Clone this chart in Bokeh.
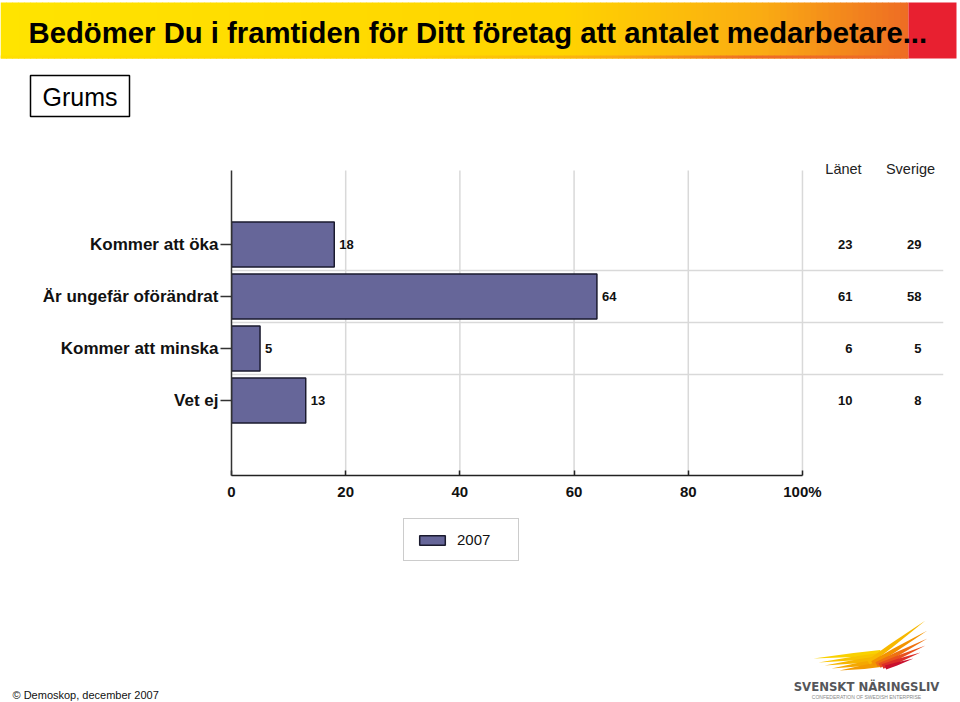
import math
from bokeh.plotting import figure
from bokeh.layouts import column
from bokeh.models import Range1d, FixedTicker, Legend, LegendItem, ColumnDataSource
from bokeh.core.properties import value
from bokeh.embed import file_html
from bokeh.resources import INLINE

# ---------------- data ----------------
categories = ["Kommer att öka", "Är ungefär oförändrat", "Kommer att minska", "Vet ej"]
values_2007 = [18, 64, 5, 13]
lanet = [23, 61, 6, 10]
sverige = [29, 58, 5, 8]
x_ticks = [0, 20, 40, 60, 80, 100]
x_tick_labels = ["0", "20", "40", "60", "80", "100%"]
series_name = "2007"
column_headers = ["Länet", "Sverige"]

# ---------------- layout constants (canvas pixels) ----------------
W, H = 960, 702
H_TOP = 150            # header figure height
FL, FR, FT, FB = 231, 943, 150, 475   # main frame
AX_TOP = 170           # top of axis line / grid
M_BOTTOM = 40          # main figure bottom border
B_TOP = FB + M_BOTTOM  # bottom figure starts here
XMAX = 124.7
PX_PER_CAT = 52.0
n = len(categories)
ypos = [n - i for i in range(n)]
YMIN = ypos[-1] - (FB - 400) / PX_PER_CAT
YMAX = ypos[0] + (244 - FT) / PX_PER_CAT


def dx(px):
    return (px - FL) * XMAX / (FR - FL)


def dy(py):
    return YMIN + (FB - py) / PX_PER_CAT


BAR = "#666699"
BAR_LINE = "#1a1a2e"
GRID = "#D9D9D9"
FONT = "Liberation Sans"
COND = "DejaVu Sans Condensed, Liberation Sans"


def blank(height, y0, y1):
    f = figure(width=W, height=height, output_backend="svg", toolbar_location=None,
               x_range=Range1d(0, W), y_range=Range1d(y1, y0),
               x_axis_type=None, y_axis_type=None, min_border=0, frame_align=False)
    f.outline_line_color = None
    f.xgrid.grid_line_color = None
    f.ygrid.grid_line_color = None
    f.background_fill_color = "white"
    f.border_fill_color = "white"
    return f


# ================= header figure =================
ph = blank(H_TOP, 0, H_TOP)
stops = [(0, (255, 228, 0)), (560, (255, 212, 0)), (760, (250, 172, 18)),
         (908, (238, 108, 36))]


def col_at(x):
    for (x0, c0), (x1, c1) in zip(stops[:-1], stops[1:]):
        if x0 <= x <= x1:
            t = (x - x0) / (x1 - x0)
            return tuple(int(round(a + (b - a) * t)) for a, b in zip(c0, c1))
    return stops[-1][1]


step = 6
lefts = list(range(0, 908, step))
ph.quad(left=lefts, right=[min(l + step + 0.5, 908) for l in lefts], top=2, bottom=58,
        fill_color=["#%02x%02x%02x" % col_at(l + step / 2) for l in lefts],
        line_color=None)
ph.quad(left=[908], right=[956], top=2, bottom=58, fill_color="#E82030", line_color=None)
ph.quad(left=lefts, right=[min(l + step + 0.5, 908) for l in lefts], top=55, bottom=58,
        fill_color=["#%02x%02x%02x" % col_at(min(l + step / 2 + 150, 907)) for l in lefts],
        line_color=None)

ph.text(x=[28], y=[32], text=["Bedömer Du i framtiden för Ditt företag att antalet medarbetare..."],
        text_align="left", text_baseline="middle", text_font=value(FONT),
        text_font_style="bold", text_font_size="29.3px", text_color="#000000")

ph.quad(left=[30], right=[129], top=[75], bottom=[116], fill_color="white",
        line_color="#000000", line_width=1.5)
ph.text(x=[79.5], y=[96], text=["Grums"], text_align="center", text_baseline="middle",
        text_font=value(FONT), text_font_size="25px", text_color="#000000")

# ================= main chart =================
src = ColumnDataSource(dict(
    y=ypos, v=values_2007, lbl=[str(v) for v in values_2007],
    lan=[str(v) for v in lanet], sve=[str(v) for v in sverige],
))

p = figure(width=W, height=FB - FT + M_BOTTOM, output_backend="svg", toolbar_location=None,
           x_range=Range1d(0, XMAX), y_range=Range1d(YMIN, YMAX),
           min_border_left=FL, min_border_right=W - FR,
           min_border_top=0, min_border_bottom=M_BOTTOM, frame_align=False)
p.outline_line_color = None
p.background_fill_color = "white"
p.border_fill_color = "white"
p.xgrid.grid_line_color = None
p.ygrid.grid_line_color = None

gx = x_ticks[1:]
p.segment(x0=gx, x1=gx, y0=YMIN, y1=dy(AX_TOP), line_color=GRID, line_width=1.5)
sep_y = [(ypos[i] + ypos[i + 1]) / 2 for i in range(n - 1)]
p.segment(x0=0, x1=XMAX, y0=sep_y, y1=sep_y, line_color=GRID, line_width=1.5)

bars = p.hbar(y="y", right="v", left=0, height=45 / PX_PER_CAT, source=src,
              fill_color=BAR, line_color=BAR_LINE, line_width=1.5)

common = dict(source=src, text_baseline="middle", text_font=value(FONT),
              text_font_style="bold", text_font_size="13px", text_color="#111111")
p.text(x="v", y="y", text="lbl", x_offset=5, text_align="left", **common)
p.text(x=dx(852), y="y", text="lan", text_align="right", **common)
p.text(x=dx(921), y="y", text="sve", text_align="right", **common)

p.text(x=[dx(843), dx(910)], y=dy(168), text=column_headers, text_align="center",
       text_baseline="middle", text_font=value(FONT), text_font_size="14.5px",
       text_color="#222222")

xa = p.xaxis[0]
xa.ticker = FixedTicker(ticks=x_ticks)
xa.major_label_overrides = {t: s for t, s in zip(x_ticks, x_tick_labels)}
xa.bounds = (x_ticks[0], x_ticks[-1])
xa.major_tick_in = 5
xa.major_tick_out = 0
xa.minor_tick_line_color = None
xa.axis_line_color = "#222222"
xa.axis_line_width = 1.5
xa.major_tick_line_color = "#222222"
xa.major_tick_line_width = 1.5
xa.major_label_text_font = FONT
xa.major_label_text_font_style = "bold"
xa.major_label_text_font_size = "15px"
xa.major_label_text_color = "#111111"
xa.major_label_standoff = 7

ya = p.yaxis[0]
ya.ticker = FixedTicker(ticks=ypos)
ya.major_label_overrides = {y: c for y, c in zip(ypos, categories)}
ya.bounds = (YMIN, dy(AX_TOP))
ya.major_tick_in = 0
ya.major_tick_out = 11
ya.minor_tick_line_color = None
ya.axis_line_color = "#333333"
ya.axis_line_width = 1.5
ya.major_tick_line_color = "#333333"
ya.major_tick_line_width = 1.5
ya.major_label_text_font = FONT
ya.major_label_text_font_style = "bold"
ya.major_label_text_font_size = "17px"
ya.major_label_text_color = "#111111"
ya.major_label_standoff = 2

# ================= bottom figure: legend, footer, logo =================
pb = blank(H - B_TOP, B_TOP, H)
# legend proxy (same style as the bars), hidden underneath the legend box
leg_r = pb.hbar(y=[540], right=[440], left=[420], height=8, fill_color=BAR,
                line_color=BAR_LINE, line_width=1.5)
legend = Legend(items=[LegendItem(label=series_name, renderers=[leg_r])],
                location=(403, H - 561), orientation="vertical",
                glyph_width=32, glyph_height=12, padding=12, label_standoff=9,
                label_width=49, border_line_color="#999999", border_line_width=1.5,
                label_text_font=FONT, label_text_font_size="15px",
                label_text_color="#111111", margin=0, background_fill_alpha=1,
                background_fill_color="white")
pb.add_layout(legend)

pb.text(x=[12], y=[694], text=["© Demoskop, december 2007"], text_align="left",
        text_baseline="middle", text_font=value(FONT), text_font_size="11px",
        text_color="#111111")

feathers = [
    (880, 652, 813, 658, 5, "#F9D100"),
    (880, 655, 818, 662, 5, "#F8C400"),
    (880, 658, 824, 665, 5, "#F6B600"),
    (880, 661, 831, 668, 5, "#F4A800"),
    (880, 664, 839, 670, 5, "#F29A00"),
    (868, 662, 925, 620, 5, "#F7B800"),
    (872, 663, 927, 630, 5, "#F39300"),
    (876, 664, 927, 638, 5, "#EE7212"),
    (879, 665, 925, 645, 5, "#E8501E"),
    (882, 666, 920, 652, 5, "#DC2E28"),
    (885, 667, 913, 658, 4, "#C8102E"),
]
fxs, fys, fcs = [], [], []
for bx, by, tx, ty, w, c in feathers:
    L = math.hypot(tx - bx, ty - by)
    nx, ny = -(ty - by) / L, (tx - bx) / L
    mx, my = bx + (tx - bx) * 0.4, by + (ty - by) * 0.4
    pts = [(bx + nx * w / 2, by + ny * w / 2), (mx + nx * w * 0.4, my + ny * w * 0.4),
           (tx, ty), (mx - nx * w * 0.4, my - ny * w * 0.4),
           (bx - nx * w / 2, by - ny * w / 2)]
    fxs.append([a for a, b in pts])
    fys.append([b for a, b in pts])
    fcs.append(c)
pb.patches(xs=fxs, ys=fys, fill_color=fcs, line_color=None)

pb.text(x=[866], y=[686], text=["SVENSKT NÄRINGSLIV"], text_align="center",
        text_baseline="middle", text_font=value(COND), text_font_style="bold",
        text_font_size="13px", text_color="#55565A")
pb.text(x=[866], y=[696], text=["CONFEDERATION OF SWEDISH ENTERPRISE"],
        text_align="center", text_baseline="middle", text_font=value(FONT),
        text_font_size="5px", text_color="#888888")

layout = column(ph, p, pb, spacing=0)
open("out.html", "w").write(file_html(layout, INLINE))
